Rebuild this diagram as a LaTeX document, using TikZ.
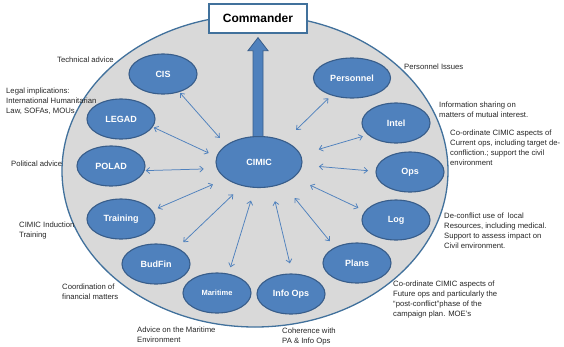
\documentclass[tikz,border=0pt]{standalone}
\usepackage{fontspec}
\setmainfont{Liberation Sans}
\usetikzlibrary{calc,arrows.meta,shapes.geometric}
\definecolor{obl}{HTML}{4F81BD}
\definecolor{obd}{HTML}{385D8A}
\definecolor{obe}{HTML}{41719C}
\definecolor{ogr}{HTML}{D9D9D9}
\begin{document}
\begin{tikzpicture}[x=1pt,y=-1pt,
  sat/.style={ellipse, draw=obd, line width=1.1pt, fill=obl, text=white,
    font=\fontsize{9}{10}\selectfont\bfseries, minimum width=68pt, minimum height=40pt,
    inner sep=0pt, outer sep=0pt},
  baseell/.style={ellipse, draw=obe, line width=1.3pt, fill=ogr, minimum width=386pt,
    minimum height=312pt, inner sep=0pt, outer sep=0pt},
  cmdbox/.style={draw=obe, line width=1.3pt, fill=white, minimum width=98pt, minimum height=29pt,
    inner sep=0pt, font=\fontsize{12}{14}\selectfont\bfseries},
  note/.style={anchor=north west, inner sep=0pt, align=left,
    font=\fontsize{7.7}{10}\selectfont, text=black!85},
  link/.style={draw=obl, line width=0.75pt,
    {Straight Barb[length=3.5pt,width=6pt]}-{Straight Barb[length=3.5pt,width=6pt]}},
  bigarrow/.style={fill=obl, draw=obd, line width=0.8pt, line join=miter},
]
\useasboundingbox (0,0) rectangle (564,346);

\node[baseell] (base) at (255,171) {};
\node[cmdbox] (cmd) at (258,18.5) {Commander};

\node[sat, minimum width=86pt, minimum height=51pt] (cimic) at (259,162) {CIMIC};
\node[sat] (cis) at (163,74) {CIS};
\node[sat] (legad) at (121,119) {LEGAD};
\node[sat] (polad) at (111,166) {POLAD};
\node[sat] (training) at (121,219) {Training};
\node[sat] (budfin) at (156,264) {BudFin};
\node[sat, font=\fontsize{7.5}{9}\selectfont\bfseries] (maritime) at (217,293) {Maritime};
\node[sat] (infoops) at (291,294) {Info Ops};
\node[sat] (plans) at (357,263) {Plans};
\node[sat] (log) at (396,220) {Log};
\node[sat] (ops) at (410,172) {Ops};
\node[sat] (intel) at (396,123) {Intel};
\node[sat, minimum width=77pt] (personnel) at (352,78) {Personnel};

\draw[bigarrow] ($(cmd.south |- cimic.north)+(-5,0)$) -- ($(cmd.south)+(-5,17)$)
  -- ($(cmd.south)+(-10,17)$) -- ($(cmd.south)+(0,4)$) -- ($(cmd.south)+(10,17)$)
  -- ($(cmd.south)+(5,17)$) -- ($(cmd.south |- cimic.north)+(5,0)$) -- cycle;

\draw[link, shorten <=10pt, shorten >=1.7pt] (cimic.153) -- (cis.-48);
\draw[link, shorten <=9pt, shorten >=1.6pt] (cimic.173) -- (legad.-14);
\draw[link, shorten <=13.7pt, shorten >=1.6pt] (cimic.189) -- (polad.-8);
\draw[link, shorten <=14.6pt, shorten >=6.3pt] (cimic.207) -- (training.15);
\draw[link, shorten <=12.8pt, shorten >=8.8pt] (cimic.235) -- (budfin.37);
\draw[link, shorten <=13.8pt, shorten >=7.2pt] (cimic.261) -- (maritime.59);
\draw[link, shorten <=15.2pt, shorten >=11pt] (cimic.297) -- (infoops.86);
\draw[link, shorten <=19pt, shorten >=8.4pt] (cimic.318) -- (plans.145);
\draw[link, shorten <=18.5pt, shorten >=7.8pt] (cimic.336) -- (log.164);
\draw[link, shorten <=17.2pt, shorten >=8pt] (cimic.356) -- (ops.179);
\draw[link, shorten <=19.3pt, shorten >=5.8pt] (cimic.10) -- (intel.203);
\draw[link, shorten <=16.4pt, shorten >=4.7pt] (cimic.39) -- (personnel.220);

\node[note] (n-cis) at (57,57) {Technical advice};
\node[note] (n-legad) at (6,88) {Legal implications:\\International Humanitarian\\Law, SOFAs, MOUs};
\node[note] (n-polad) at (11,161) {Political advice};
\node[note] (n-training) at (19,222) {CIMIC Induction\\Training};
\node[note] (n-budfin) at (62,284) {Coordination of\\financial matters};
\node[note] (n-maritime) at (137,327) {Advice on the Maritime\\Environment};
\node[note] (n-infoops) at (282,328) {Coherence with\\PA \& Info Ops};
\node[note] (n-plans) at (393,281) {Co-ordinate CIMIC aspects of\\Future ops and particularly the\\“post-conflict”phase of the\\campaign plan. MOE’s};
\node[note] (n-log) at (444,213) {De-conflict use of\ \ local\\Resources, including medical.\\Support to assess impact on\\Civil environment.};
\node[note] (n-ops) at (450,130) {Co-ordinate CIMIC aspects of\\Current ops, including target de-\\confliction.; support the civil\\environment};
\node[note] (n-intel) at (439,102) {Information sharing on\\matters of mutual interest.};
\node[note] (n-personnel) at (404,64) {Personnel Issues};
\end{tikzpicture}
\end{document}
